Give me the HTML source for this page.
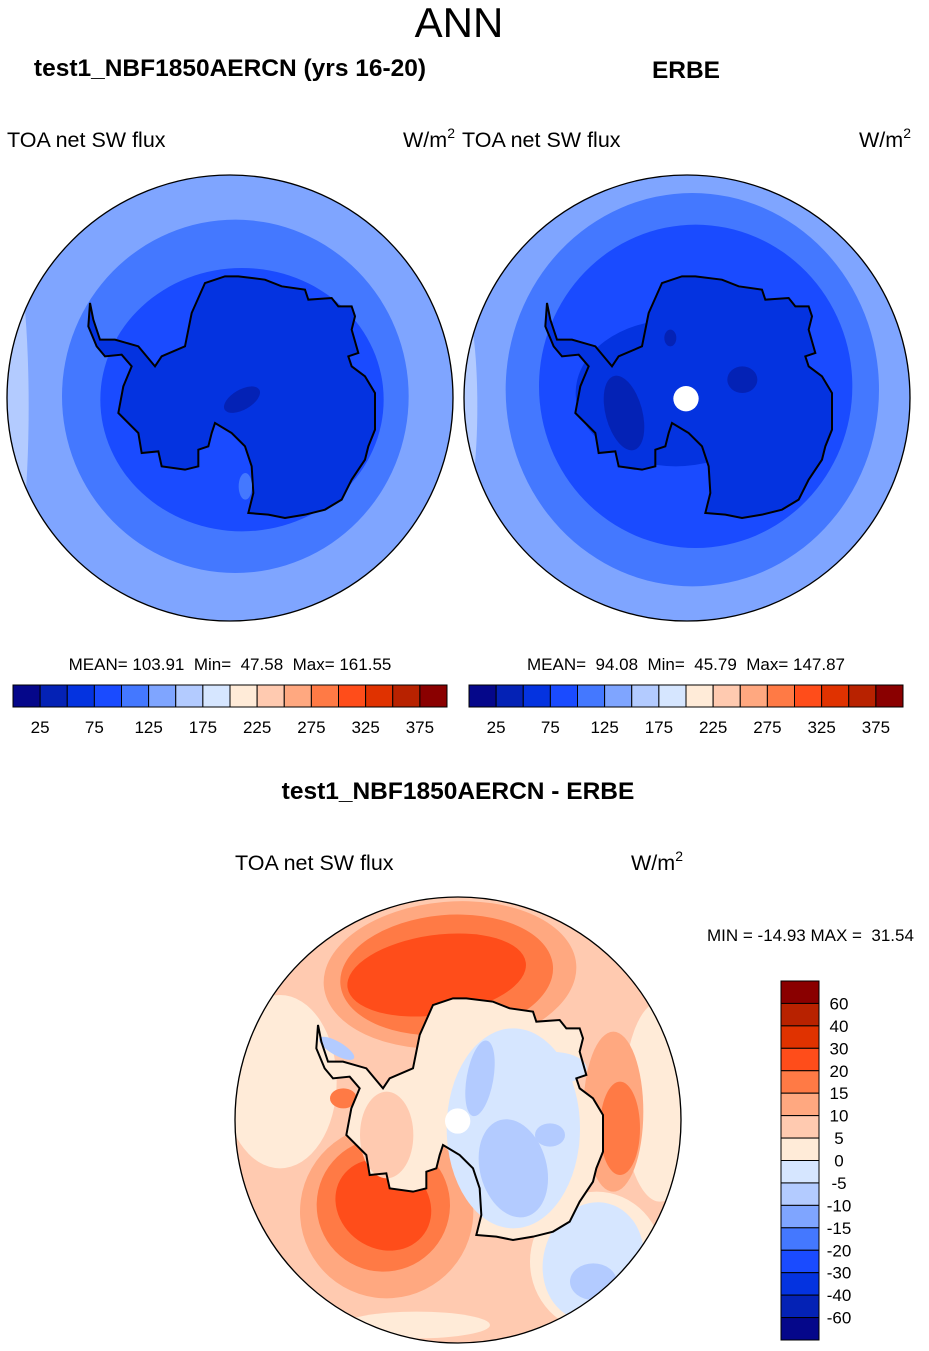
<!DOCTYPE html>
<html><head><meta charset="utf-8"><style>
body{margin:0;background:#fff;width:929px;height:1351px;overflow:hidden;font-family:"Liberation Sans",sans-serif}
svg{position:absolute;left:0;top:0}
svg text{white-space:pre}
</style></head><body>
<svg id="s" width="929" height="1351" viewBox="0 0 929 1351" font-family="Liberation Sans, sans-serif">
<text x="459" y="37" font-size="42" text-anchor="middle">ANN</text>
<text x="230" y="76" font-size="24.5" font-weight="bold" text-anchor="middle">test1_NBF1850AERCN (yrs 16-20)</text>
<text x="686" y="78" font-size="24.5" font-weight="bold" text-anchor="middle">ERBE</text>
<text x="7" y="147" font-size="21.5">TOA net SW flux</text>
<text x="455" y="147" font-size="21.5" text-anchor="end">W/m<tspan dy="-9" font-size="14">2</tspan></text>
<text x="462" y="147" font-size="21.5">TOA net SW flux</text>
<text x="911" y="147" font-size="21.5" text-anchor="end">W/m<tspan dy="-9" font-size="14">2</tspan></text>
<text x="230" y="670" font-size="17" text-anchor="middle" style="white-space:pre">MEAN= 103.91  Min=  47.58  Max= 161.55</text>
<text x="686" y="670" font-size="17" text-anchor="middle" style="white-space:pre">MEAN=  94.08  Min=  45.79  Max= 147.87</text>
<text x="458" y="799" font-size="24.5" font-weight="bold" text-anchor="middle">test1_NBF1850AERCN - ERBE</text>
<text x="235" y="870" font-size="21.5">TOA net SW flux</text>
<text x="683" y="870" font-size="21.5" text-anchor="end">W/m<tspan dy="-9" font-size="14">2</tspan></text>
<text x="707" y="941" font-size="17" style="white-space:pre">MIN = -14.93 MAX =  31.54</text>
<defs><clipPath id="cc"><circle cx="684" cy="675" r="669"/></clipPath></defs>
<g id="m1" transform="translate(2,173) scale(0.33333)"></g>
<g id="m2" transform="translate(459,173) scale(0.33333)"></g>
<g id="m3" transform="translate(230,895) scale(0.33333)"></g>
<g id="cb"></g>
</svg>
<script>
const colors=["#05078a","#0422b5","#0433e0","#1a4bff","#4478ff","#7fa5ff","#b3cbff","#d6e6ff","#ffebd8","#ffcab0","#ffa880","#ff7a45","#ff4d1a","#e03200","#b82200","#8a0000"];
const absLabels=["25","75","125","175","225","275","325","375"];
const diffLabels=["60","40","30","20","15","10","5","0","-5","-10","-15","-20","-30","-40","-60"];
const ant=[[255,390],[265,440],[285,500],[330,500],[400,520],[450,580],[470,550],[540,520],[560,420],[600,330],[660,310],[700,310],[780,320],[830,340],[900,350],[910,380],[980,375],[1000,400],[1040,400],[1050,430],[1040,470],[1060,540],[1030,550],[1040,580],[1080,610],[1110,660],[1110,770],[1090,820],[1080,860],[1040,920],[1010,980],[960,1010],[900,1025],[840,1035],[790,1025],[730,1020],[745,960],[740,880],[720,820],[680,780],[630,750],[620,780],[610,820],[580,830],[580,880],[540,890],[470,880],[460,835],[410,840],[400,780],[340,720],[355,640],[380,580],[350,545],[300,550],[275,520],[250,460]];
const NS="http://www.w3.org/2000/svg";
function mk(p,t,a){const e=document.createElementNS(NS,t);for(const k in a)e.setAttribute(k,a[k]);p.appendChild(e);return e;}
const antD="M"+ant.map(p=>(p[0]+9)+","+p[1]).join("L")+"Z";
function base(g){return mk(g,"g",{"clip-path":"url(#cc)"});}
function shapes(g,list){list.forEach(s=>{mk(g,"ellipse",{cx:s[0],cy:s[1],rx:s[2],ry:s[3],fill:s[4],transform:`rotate(${s[5]||0} ${s[0]} ${s[1]})`});});}
// map 1
let g=base(document.getElementById("m1"));
mk(g,"circle",{cx:684,cy:675,r:669,fill:"#7fa5ff"});
shapes(g,[[20,700,60,500,"#b3cbff"],[700,670,520,530,"#4478ff"],[720,680,425,395,"#1a4bff"]]);
mk(g,"path",{d:antD,fill:"#0433e0",stroke:"#000","stroke-width":6});
shapes(g,[[720,680,60,30,"#0422b5",-30],[730,940,20,40,"#4478ff"]]);
mk(document.getElementById("m1"),"circle",{cx:684,cy:675,r:669,fill:"none",stroke:"#000","stroke-width":4});
// map 2
g=base(document.getElementById("m2"));
mk(g,"circle",{cx:684,cy:675,r:669,fill:"#7fa5ff"});
shapes(g,[[15,700,40,300,"#b3cbff"],[700,650,560,590,"#4478ff"],[710,640,470,485,"#1a4bff"],[650,660,300,220,"#0433e0"]]);
mk(g,"path",{d:antD,fill:"#0433e0",stroke:"#000","stroke-width":6});
shapes(g,[[495,720,55,115,"#0422b5",-15],[850,620,45,40,"#0422b5"],[634,495,18,25,"#0422b5"]]);
mk(g,"circle",{cx:681,cy:677,r:38,fill:"#fff"});
mk(document.getElementById("m2"),"circle",{cx:684,cy:675,r:669,fill:"none",stroke:"#000","stroke-width":4});
// map 3
g=base(document.getElementById("m3"));
mk(g,"circle",{cx:684,cy:675,r:669,fill:"#ffcab0"});
shapes(g,[[150,560,170,260,"#ffebd8"],[1290,620,110,300,"#ffebd8"],[560,1290,220,40,"#ffebd8"],[1100,1100,200,210,"#ffebd8"],
[660,240,380,220,"#ffa880",-5],[470,950,260,260,"#ffa880",30],[1150,650,90,240,"#ffa880"],
[650,240,320,180,"#ff7a45",-5],[460,930,200,200,"#ff7a45",35],[1170,700,60,140,"#ff7a45"],
[620,240,270,120,"#ff4d1a",-8],[460,930,150,130,"#ff4d1a",35],[340,610,40,30,"#ff7a45"],
[1090,1100,150,180,"#d6e6ff",15],[1090,1160,70,55,"#b3cbff"]]);
mk(g,"path",{d:antD,fill:"#ffebd8"});
shapes(g,[[470,720,80,130,"#ffcab0"],[850,700,200,300,"#d6e6ff"],[960,520,110,50,"#d6e6ff"],[750,550,40,115,"#b3cbff",10],[850,820,100,150,"#b3cbff",-15],[960,720,45,35,"#b3cbff"],[320,460,60,20,"#b3cbff",30]]);
mk(g,"path",{d:antD,fill:"none",stroke:"#000","stroke-width":6});
mk(g,"circle",{cx:683,cy:678,r:38,fill:"#fff"});
mk(document.getElementById("m3"),"circle",{cx:684,cy:675,r:669,fill:"none",stroke:"#000","stroke-width":4});
// colorbars
const cb=document.getElementById("cb");
[13,469].forEach((x0,bi)=>{const w=(434)/16;
 colors.forEach((c,i)=>{const r=mk(cb,"rect",{x:x0+i*w,y:685,width:w,height:22,fill:c,stroke:"#000","stroke-width":1});
  
  });
 absLabels.forEach((l,j)=>{const t=mk(cb,"text",{x:x0+(2*j+1)*w,y:733,"font-size":17,"text-anchor":"middle"});t.textContent=l;
  
  });
});
const h=359/16;
colors.slice().reverse().forEach((c,i)=>{const r=mk(cb,"rect",{x:781,y:981+i*h,width:38,height:h,fill:c,stroke:"#000","stroke-width":1});
 
 });
diffLabels.forEach((l,j)=>{const t=mk(cb,"text",{x:839,y:981+(j+1)*h+6,"font-size":17,"text-anchor":"middle"});t.textContent=l;
 
 });
</script>
</body></html>
